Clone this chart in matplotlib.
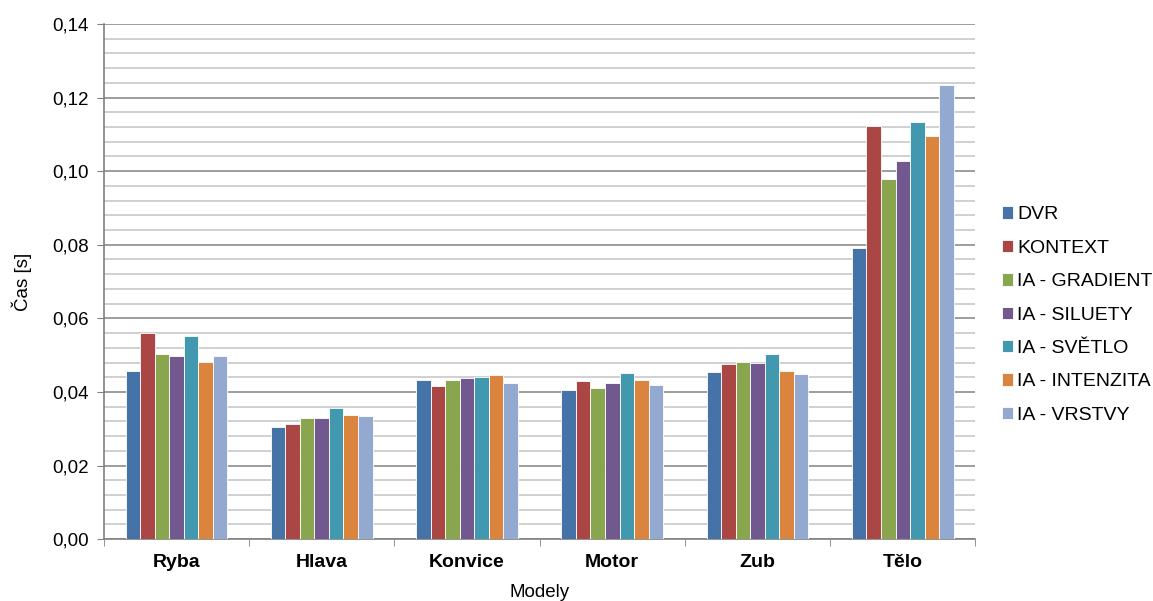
import numpy as np
import matplotlib
matplotlib.use("Agg")
import matplotlib.pyplot as plt
from matplotlib.ticker import MultipleLocator, FuncFormatter

plt.rcParams['font.family'] = ['Liberation Sans', 'DejaVu Sans']

models = ["Ryba", "Hlava", "Konvice", "Motor", "Zub", "Tělo"]
series = ["DVR", "KONTEXT", "IA - GRADIENT", "IA - SILUETY", "IA - SVĚTLO", "IA - INTENZITA", "IA - VRSTVY"]
colors = ["#4572A7", "#AA4643", "#89A54E", "#71588F", "#4198AF", "#DB843D", "#93A9CF"]

dvr = [0.0458, 0.0304, 0.0432, 0.0405, 0.0455, 0.0792]
kontext = [0.0561, 0.0313, 0.0417, 0.0430, 0.0475, 0.1122]
gradient = [0.0504, 0.0328, 0.0433, 0.0411, 0.0481, 0.0978]
siluety = [0.0497, 0.0330, 0.0438, 0.0425, 0.0479, 0.1029]
svetlo = [0.0552, 0.0357, 0.0441, 0.0451, 0.0502, 0.1134]
intenzita = [0.0482, 0.0337, 0.0446, 0.0433, 0.0457, 0.1097]
vrstvy = [0.0497, 0.0335, 0.0425, 0.0420, 0.0448, 0.1233]
values = [dvr, kontext, gradient, siluety, svetlo, intenzita, vrstvy]

fig = plt.figure(figsize=(11.53, 6.01), dpi=100)
ax = fig.add_axes([0.090, 0.103, 0.756, 0.857])

x = np.arange(len(models))
w = 0.1
for i, (name, vals) in enumerate(zip(series, values)):
    ax.bar(x + (i - 3) * w, vals, width=w, color=colors[i], label=name,
           edgecolor='white', linewidth=0.6, zorder=3)

ax.set_xlim(-0.5, len(models) - 0.5)
ax.set_ylim(0, 0.14)
ax.yaxis.set_major_locator(MultipleLocator(0.02))
ax.yaxis.set_minor_locator(MultipleLocator(0.004))
ax.yaxis.set_major_formatter(FuncFormatter(lambda v, p: f"{v:.2f}".replace('.', ',')))
ax.grid(axis='y', which='major', color='#8c8c8c', linewidth=1.2, zorder=0)
ax.grid(axis='y', which='minor', color='#c8c8c8', linewidth=1.2, zorder=0)

ax.set_xticks(x)
ax.set_xticklabels(models, fontweight='bold', fontsize=14)
ax.set_xticks(np.arange(len(models) + 1) - 0.5, minor=True)
ax.tick_params(axis='x', which='major', length=0, pad=11)
ax.tick_params(axis='x', which='minor', length=5, color='#808080')
ax.tick_params(axis='y', which='major', length=5, color='#808080', labelsize=13.5, pad=6)
ax.tick_params(axis='y', which='minor', length=0)

for s in ['top', 'right']:
    ax.spines[s].set_visible(False)
for s in ['left', 'bottom']:
    ax.spines[s].set_color('#808080')
    ax.spines[s].set_linewidth(1.2)

ax.set_xlabel("Modely", fontsize=13.5, labelpad=9)
ax.set_ylabel("Čas [s]", fontsize=13.5, labelpad=14)

ax.legend(loc='center left', bbox_to_anchor=(1.01, 0.435), frameon=False,
          fontsize=14, handlelength=0.6, handleheight=0.6, handletextpad=0.2,
          labelspacing=0.84)

fig.savefig("out.png", dpi=100)
